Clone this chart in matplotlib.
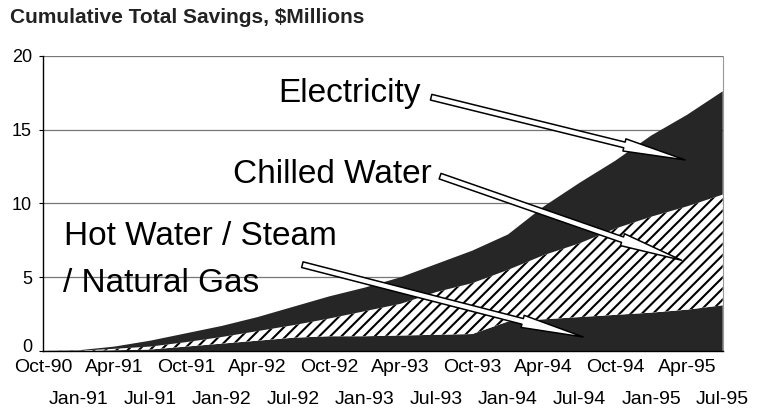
import numpy as np
from matplotlib import pyplot as plt
import matplotlib.transforms as mtransforms

plt.rcParams['font.family'] = ['Liberation Sans', 'DejaVu Sans']
plt.rcParams['hatch.linewidth'] = 1.5

# quarterly dates, Oct-90 .. Jul-95
quarters = ['Oct-90', 'Jan-91', 'Apr-91', 'Jul-91', 'Oct-91', 'Jan-92', 'Apr-92',
            'Jul-92', 'Oct-92', 'Jan-93', 'Apr-93', 'Jul-93', 'Oct-93', 'Jan-94',
            'Apr-94', 'Jul-94', 'Oct-94', 'Jan-95', 'Apr-95', 'Jul-95']

# cumulative savings by utility, $ millions (stacked)
hot_water = [0, 0, 0.05, 0.1, 0.3, 0.5, 0.7, 0.9, 1.0, 1.0,
             1.05, 1.1, 1.15, 2.0, 2.15, 2.3, 2.45, 2.6, 2.8, 3.1]
chilled_water = [0, 0.02, 0.1, 0.2, 0.3, 0.45, 0.65, 0.85, 1.2, 1.7,
                 2.15, 2.9, 3.45, 3.5, 4.35, 5.0, 5.85, 6.5, 7.0, 7.5]
electricity = [0, 0.03, 0.15, 0.4, 0.6, 0.75, 0.95, 1.25, 1.5, 1.6,
               1.8, 1.9, 2.2, 2.4, 3.3, 4.1, 4.6, 5.5, 6.2, 7.0]

x = np.arange(len(quarters))
dark = '#262626'

fig = plt.figure(figsize=(7.68, 4.11), dpi=100)
ax = fig.add_axes([0.056, 0.146, 0.885, 0.718])

polys = ax.stackplot(x, hot_water, chilled_water, electricity,
                     colors=[dark, 'white', dark], linewidth=0)
polys[1].set_edgecolor('black')
polys[1].set_hatch('///')
polys[1].set_linewidth(0)

ax.set_xlim(0, len(quarters) - 1)
ax.set_ylim(0, 20)
ax.set_yticks([0, 5, 10, 15, 20])
ax.tick_params(axis='y', labelsize=13, length=3, width=0.8, pad=5)
ax.yaxis.grid(True, color='#777777', linewidth=0.9)
ax.set_axisbelow(True)

# lift the "0" a little so it sits above the date row
lbl0 = ax.get_yticklabels()[0]
lbl0.set_transform(lbl0.get_transform() +
                   mtransforms.ScaledTranslation(0, 4 / 72, fig.dpi_scale_trans))

# alternate rows for the x labels
ax.set_xticks(x[::2], quarters[::2])
ax.set_xticks(x[1::2], quarters[1::2], minor=True)
ax.tick_params(axis='x', which='both', length=0, labelsize=14)
ax.tick_params(axis='x', which='major', pad=6)
ax.tick_params(axis='x', which='minor', pad=29)

ax.spines['top'].set_visible(False)
ax.spines['right'].set_color('#999999')
ax.spines['right'].set_linewidth(0.8)
ax.spines['left'].set_linewidth(1.0)
ax.spines['bottom'].set_linewidth(1.0)

fig.text(0.013, 0.945, 'Cumulative Total Savings, $Millions',
         fontsize=15, fontweight='bold', color='#222222')

# labels with long hollow arrows
arrow = dict(arrowstyle='simple,head_length=4.5,head_width=0.9,tail_width=0.42',
             fc='white', ec='black', lw=1.1, mutation_scale=10,
             shrinkA=0, shrinkB=0)

ax.text(6.57, 16.9, 'Electricity', fontsize=24, ha='left', va='baseline')
ax.annotate('', xy=(17.95, 12.95), xytext=(10.85, 17.2), arrowprops=arrow)

ax.text(5.31, 11.4, 'Chilled Water', fontsize=24, ha='left', va='baseline')
ax.annotate('', xy=(17.85, 6.15), xytext=(11.1, 11.85), arrowprops=arrow)

ax.text(0.6, 7.2, 'Hot Water / Steam', fontsize=24, ha='left', va='baseline')
ax.text(0.55, 4.0, '/ Natural Gas', fontsize=24, ha='left', va='baseline')
ax.annotate('', xy=(15.1, 0.95), xytext=(7.25, 5.85), arrowprops=arrow)

fig.savefig('out.png', dpi=100)
